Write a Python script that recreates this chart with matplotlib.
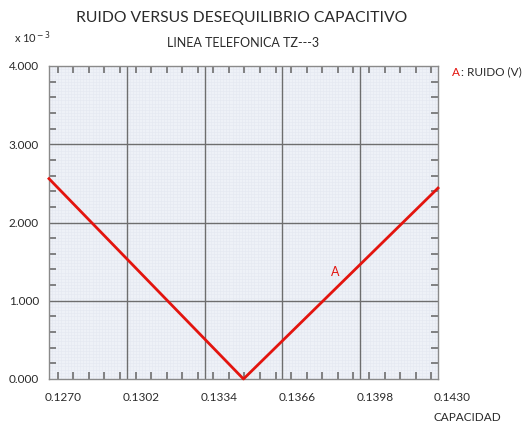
import numpy as np
import matplotlib
matplotlib.use("Agg")
import matplotlib.pyplot as plt
from matplotlib.ticker import MultipleLocator

plt.rcParams['font.family'] = ['Lato', 'DejaVu Sans']

# Noise (x 10^-3 V) versus capacitance
capacidad = [0.1270, 0.1350, 0.1430]
ruido = [2.56, 0.00, 2.44]

x_ticks = [0.1270, 0.1302, 0.1334, 0.1366, 0.1398, 0.1430]
x_tick_labels = ["0.1270", "0.1302", "0.1334", "0.1366", "0.1398", "0.1430"]
y_ticks = [0.0, 1.0, 2.0, 3.0, 4.0]
y_tick_labels = ["0.000", "1.000", "2.000", "3.000", "4.000"]

W, H = 526, 427
fig = plt.figure(figsize=(W / 100, H / 100), dpi=100)
fig.patch.set_facecolor("white")

L, R, T, B = 49, 438, 67, 380
ax = fig.add_axes([L / W, 1 - B / H, (R - L) / W, (B - T) / H])
ax.set_facecolor("#eef1f7")
ax.set_xlim(x_ticks[0], x_ticks[-1])
ax.set_ylim(y_ticks[0], y_ticks[-1])

# graph-paper fine grid
xmaj = x_ticks[1] - x_ticks[0]
for xv in np.arange(x_ticks[0], x_ticks[-1] + 1e-9, xmaj / 25):
    ax.axvline(xv, color="#e4e8f1", lw=0.4, zorder=0)
for yv in np.arange(0, 4.0001, 1.0 / 25):
    ax.axhline(yv, color="#e4e8f1", lw=0.4, zorder=0)

# major grid
for xv in x_ticks[1:-1]:
    ax.axvline(xv, color="#6e6e6e", lw=1.0, zorder=1)
for yv in y_ticks[1:-1]:
    ax.axhline(yv, color="#6e6e6e", lw=1.0, zorder=1)

ax.set_xticks(x_ticks)
ax.set_yticks(y_ticks)
ax.set_xticklabels([])
ax.set_yticklabels([])
ax.tick_params(which="major", length=0)
ax.xaxis.set_minor_locator(MultipleLocator(xmaj / 5))
ax.yaxis.set_minor_locator(MultipleLocator(0.2))
ax.tick_params(which="minor", direction="in", length=5, width=1.2,
               color="#6e6e6e", top=True, right=True)
for s in ax.spines.values():
    s.set_color("#8a8a8a")
    s.set_linewidth(1.0)

ax.plot(capacidad, ruido, color="#e3140e", lw=2.0, zorder=3, clip_on=False)

txt = "#2a2a2a"
# tick labels
for xv, lab in zip(x_ticks, x_tick_labels):
    fig.text((ax.transData.transform((xv, 0))[0] - 4) / W, 1 - 398 / H, lab,
             ha="left", va="center", fontsize=8.5, color=txt)
for yv, lab in zip(y_ticks, y_tick_labels):
    py = ax.transData.transform((0.1270, yv))[1]
    fig.text(39 / W, py / H, lab, ha="right", va="center",
             fontsize=8.5, color=txt)

cx = (L + R) / 2 / W
fig.text(cx - 2 / W, 1 - 18 / H, "RUIDO VERSUS DESEQUILIBRIO CAPACITIVO",
         ha="center", va="center", fontsize=11.3, color=txt)
fig.text(cx, 1 - 43 / H, "LINEA TELEFONICA TZ---3",
         ha="center", va="center", fontsize=9, color=txt)
fig.text(14 / W, 1 - 38 / H, r"x 10$^{\rm -3}$", ha="left", va="center",
         fontsize=8, color=txt)
fig.text(433 / W, 1 - 418 / H, "CAPACIDAD", ha="left", va="center",
         fontsize=8.5, color=txt)
fig.text(452 / W, 1 - 72 / H, "A", ha="left", va="center",
         fontsize=8.5, color="#e3140e")
fig.text(461 / W, 1 - 72 / H, ": RUIDO (V)", ha="left", va="center",
         fontsize=8.5, color=txt)
ax.text(0.13876, 1.38, "A", ha="center", va="center", fontsize=9,
        color="#e3140e")

fig.savefig("out.png", dpi=100)
